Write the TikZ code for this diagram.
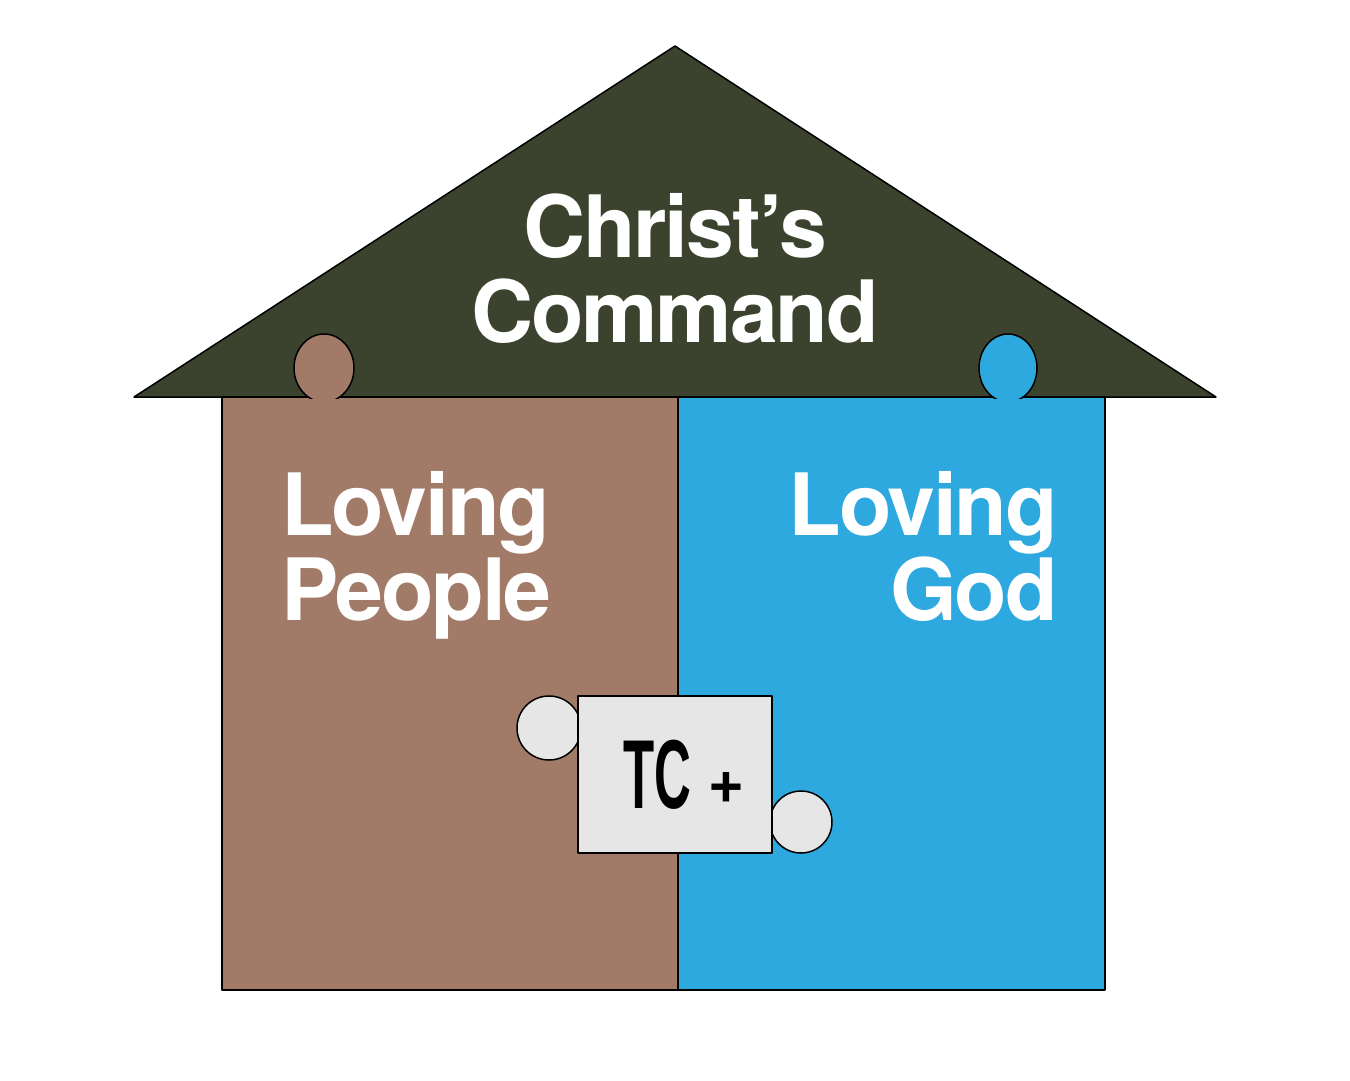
\documentclass[tikz,border=0pt]{standalone}
\usepackage{fontspec}
\setmainfont{TeX Gyre Heros}
\newfontfamily\headfont[LetterSpace=-2.5]{TeX Gyre Heros}
\newfontfamily\tcfont{Liberation Sans}
\definecolor{roofc}{HTML}{3B432F}
\definecolor{brownw}{HTML}{A27A68}
\definecolor{bluew}{HTML}{2EA9E0}
\definecolor{piecec}{HTML}{E6E6E6}
\tikzset{
  outline/.style={draw=black, line width=1.5pt, line join=round},
  headtext/.style={text=white, inner sep=0pt, font=\headfont\bfseries\fontsize{86}{86}\selectfont},
  tctext/.style={text=black, inner sep=0pt, font=\tcfont\bfseries\fontsize{98}{98}\selectfont},
}
\begin{document}
\begin{tikzpicture}[x=1pt,y=-1pt]
\useasboundingbox (0,0) rectangle (1350,1080);
\fill[white] (0,0) rectangle (1350,1080);
% roof
\draw[outline, fill=roofc] (134,397) -- (675,46) -- (1216,397) -- cycle;
% walls
\draw[outline, fill=brownw] (222,397) rectangle (678,990);
\draw[outline, fill=bluew] (678,397) rectangle (1105,990);
% tabs
\draw[outline, fill=brownw] (324,368) ellipse [x radius=30, y radius=34];
\fill[brownw] (300,398.5) rectangle (348,410);
\draw[outline, fill=bluew] (1008,368) ellipse [x radius=29, y radius=34];
\fill[bluew] (985,398.5) rectangle (1031,410);
% puzzle piece
\draw[outline, fill=piecec] (549,728) circle [radius=32];
\draw[outline, fill=piecec] (801,822) circle [radius=31];
\draw[outline, fill=piecec] (578,696) rectangle (772,853);
% texts
\node[headtext, anchor=base] (c1) at (675,257) {Christ’s};
\node[headtext, anchor=base] (c2) at (675,342) {Command};
\node[headtext, anchor=base west] (p1) at (281,535) {Loving};
\node[headtext, anchor=base west] (p2) at (281,620) {People};
\node[headtext, anchor=base east] (g1) at (1058,535) {Loving};
\node[headtext, anchor=base east] (g2) at (1058,620) {God};
\node[tctext, anchor=base] (tc) at (657,808) {\scalebox{0.52}[1]{TC}};
\node[text=black, inner sep=0pt, font=\tcfont\bfseries\fontsize{58}{58}\selectfont] (plus) at (726,789) {+};
\end{tikzpicture}
\end{document}
